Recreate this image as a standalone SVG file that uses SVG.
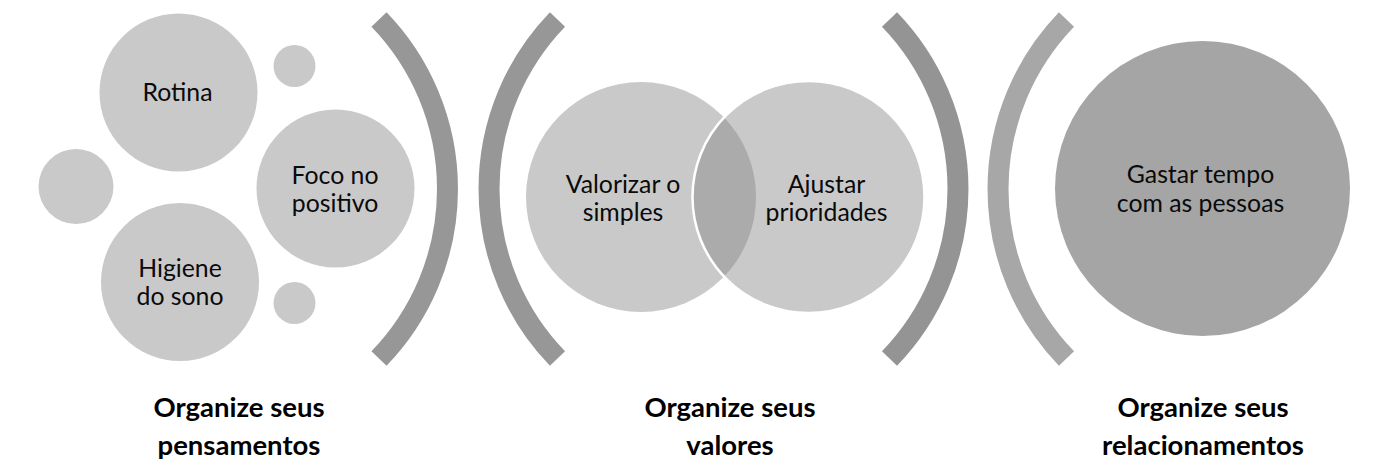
<svg xmlns="http://www.w3.org/2000/svg" width="1388" height="476" viewBox="0 0 1388 476">
  <style>
    .c1 { fill: #c9c9c9; }
    .arc { fill: none; stroke-width: 21; stroke-linecap: butt; }
    .t { font-family: Lato, "Open Sans", "Liberation Sans", sans-serif; font-size: 24.8px; fill: #0a0a0a; text-anchor: middle; }
    .h { font-family: Lato, "Open Sans", "Liberation Sans", sans-serif; font-size: 27.5px; font-weight: bold; fill: #000000; text-anchor: middle; }
  </style>
  <rect x="0" y="0" width="1388" height="476" fill="#ffffff"/>

  <g id="brackets">
    <path class="arc" stroke="#979797" d="M379,19.5 A244,244 0 0 1 379,358.5"/>
    <path class="arc" stroke="#979797" d="M557.5,19.5 A244,244 0 0 0 557.5,358.5"/>
    <path class="arc" stroke="#949494" d="M889.5,19.5 A244,244 0 0 1 889.5,358.5"/>
    <path class="arc" stroke="#a7a7a7" d="M1066.5,19.5 A244,244 0 0 0 1066.5,358.5"/>
  </g>

  <g id="group-pensamentos">
    <g id="node-rotina">
      <circle class="c1" cx="178.5" cy="92.5" r="79"/>
      <text class="t" x="177.5" y="100.5">Rotina</text>
    </g>
    <g id="node-dot-top">
      <circle class="c1" cx="294.5" cy="66" r="21"/>
    </g>
    <g id="node-dot-left">
      <circle class="c1" cx="76" cy="186.5" r="37.5"/>
    </g>
    <g id="node-foco">
      <circle class="c1" cx="335.5" cy="188.5" r="79"/>
      <text class="t" x="335" y="184">Foco no</text>
      <text class="t" x="335" y="212">positivo</text>
    </g>
    <g id="node-higiene">
      <circle class="c1" cx="180" cy="282" r="79"/>
      <text class="t" x="180" y="277">Higiene</text>
      <text class="t" x="180" y="305">do sono</text>
    </g>
    <g id="node-dot-bottom">
      <circle class="c1" cx="294.5" cy="303" r="21"/>
    </g>
  </g>

  <g id="group-valores">
    <g id="node-valorizar">
      <circle class="c1" cx="641" cy="197" r="115"/>
    </g>
    <g id="node-ajustar">
      <circle cx="808.5" cy="197" r="116" fill="#868686" fill-opacity="0.444" stroke="#ffffff" stroke-width="2.5"/>
    </g>
    <text class="t" x="623" y="193">Valorizar o</text>
    <text class="t" x="623" y="221">simples</text>
    <text class="t" x="826.5" y="193">Ajustar</text>
    <text class="t" x="826.5" y="221">prioridades</text>
  </g>

  <g id="group-relacionamentos">
    <g id="node-gastar">
      <circle cx="1202.5" cy="188.5" r="147.5" fill="#a5a5a5"/>
      <text class="t" x="1200.5" y="183">Gastar tempo</text>
      <text class="t" x="1200.5" y="212">com as pessoas</text>
    </g>
  </g>

  <g id="labels">
    <text class="h" x="239" y="417">Organize seus</text>
    <text class="h" x="239" y="455">pensamentos</text>
    <text class="h" x="730" y="417">Organize seus</text>
    <text class="h" x="730" y="455">valores</text>
    <text class="h" x="1203" y="417">Organize seus</text>
    <text class="h" x="1203" y="455">relacionamentos</text>
  </g>
</svg>
